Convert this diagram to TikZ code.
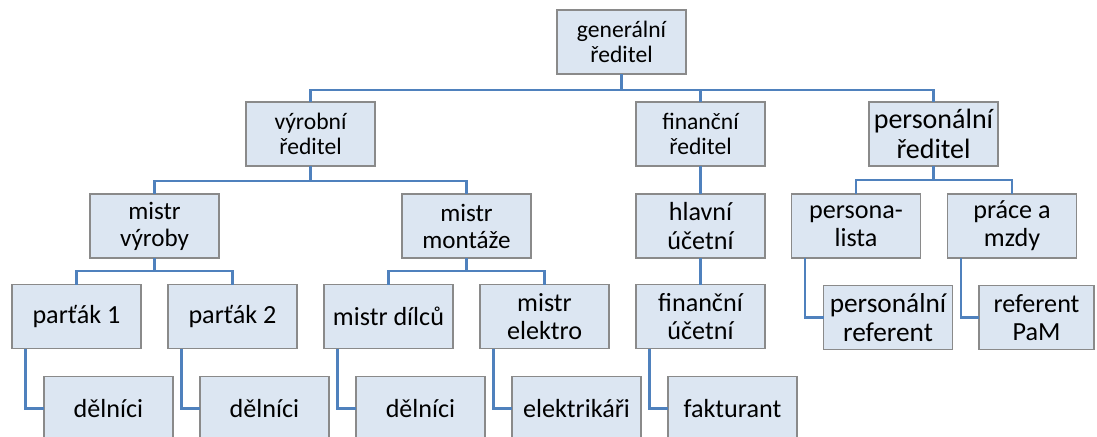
\documentclass[tikz,border=0pt]{standalone}
\usepackage{fontspec}
\setmainfont{Carlito}
\usetikzlibrary{calc}
\definecolor{boxfill}{HTML}{DCE6F2}
\definecolor{boxline}{HTML}{8A8A8A}
\definecolor{linkblue}{HTML}{4F81BD}
% box text at a given size, with tight line spacing
\newcommand\bxfont[1]{\fontsize{#1}{\dimexpr #1*108/100\relax}\selectfont}
\tikzset{
  orgbox/.style={draw=boxline, fill=boxfill, line width=0.8pt,
    minimum width=96.75pt, minimum height=48pt, inner sep=0pt, outer sep=0pt,
    align=center, text=black, font=\bxfont{19.6pt}},
  fs/.style={font=\bxfont{#1}},
  link/.style={draw=linkblue, line width=1.7pt, line join=miter}
}
\begin{document}
\begin{tikzpicture}[x=0.75pt, y=-0.75pt]
\useasboundingbox (0,0) rectangle (1097,436);
\clip (0,0) rectangle (1097,436);
\fill[white] (0,0) rectangle (1097,436);

% top level
\node[orgbox, fs=17.7pt] (gen) at (621.5,42) {generální\\ředitel};
% directors
\node[orgbox, fs=17.7pt] (vyr) at (310.5,134) {výrobní\\ředitel};
\node[orgbox, fs=17.7pt] (fin) at (700.5,134) {finanční\\ředitel};
\node[orgbox, fs=21pt] (per) at (933.5,134) {personální\\ředitel};
% third level
\node[orgbox, fs=18.8pt] (mv) at (154.5,226) {mistr\\výroby};
\node[orgbox, fs=18.8pt] (mm) at (466.5,226) {mistr\\montáže};
\node[orgbox] (hu) at (700.5,226) {hlavní\\účetní};
\node[orgbox] (pl) at (856,226) {persona-\\lista};
\node[orgbox] (pm) at (1012,226) {práce a\\mzdy};
% fourth level
\node[orgbox] (p1) at (76.5,316.5) {parťák 1};
\node[orgbox] (p2) at (232.5,316.5) {parťák 2};
\node[orgbox] (md) at (388.5,316.5) {mistr dílců};
\node[orgbox] (me) at (544.5,316.5) {mistr\\elektro};
\node[orgbox] (fu) at (700.5,316.5) {finanční\\účetní};
\node[orgbox, fs=20.5pt] (pr) at (888,317.5) {personální\\referent};
\node[orgbox, minimum width=86.25pt] (rp) at (1036.5,317.5) {referent\\PaM};
% bottom level
\node[orgbox] (d1) at (108.5,408.5) {dělníci};
\node[orgbox] (d2) at (264.5,408.5) {dělníci};
\node[orgbox] (d3) at (420.5,408.5) {dělníci};
\node[orgbox] (el) at (576.5,408.5) {elektrikáři};
\node[orgbox] (fa) at (732.5,408.5) {fakturant};

% bus lines
\coordinate (busgen) at (621.5,90);
\coordinate (busvyr) at (310.5,181);
\coordinate (busper) at (933.5,180);
\coordinate (busmv) at (154.5,271);
\coordinate (busmm) at (466.5,271);

\draw[link] (gen.south) -- (busgen);
\draw[link] (vyr.north) |- (busgen) -| (per.north);
\draw[link] (fin.north) -- (fin.north |- busgen);

\draw[link] (vyr.south) -- (busvyr);
\draw[link] (mv.north) |- (busvyr) -| (mm.north);

\draw[link] (fin.south) -- (hu.north);
\draw[link] (hu.south) -- (fu.north);

\draw[link] (per.south) -- (busper);
\draw[link] (pl.north) |- (busper) -| (pm.north);

\draw[link] (mv.south) -- (busmv);
\draw[link] (p1.north) |- (busmv) -| (p2.north);

\draw[link] (mm.south) -- (busmm);
\draw[link] (md.north) |- (busmm) -| (me.north);

% side branches
\draw[link] ($(p1.south west)+(13.5,0)$) |- (d1.west);
\draw[link] ($(p2.south west)+(13.5,0)$) |- (d2.west);
\draw[link] ($(md.south west)+(13.5,0)$) |- (d3.west);
\draw[link] ($(me.south west)+(13.5,0)$) |- (el.west);
\draw[link] ($(fu.south west)+(13.5,0)$) |- (fa.west);
\draw[link] ($(pl.south west)+(13.5,0)$) |- (pr.west);
\draw[link] ($(pm.south west)+(13.5,0)$) |- (rp.west);
\end{tikzpicture}
\end{document}
